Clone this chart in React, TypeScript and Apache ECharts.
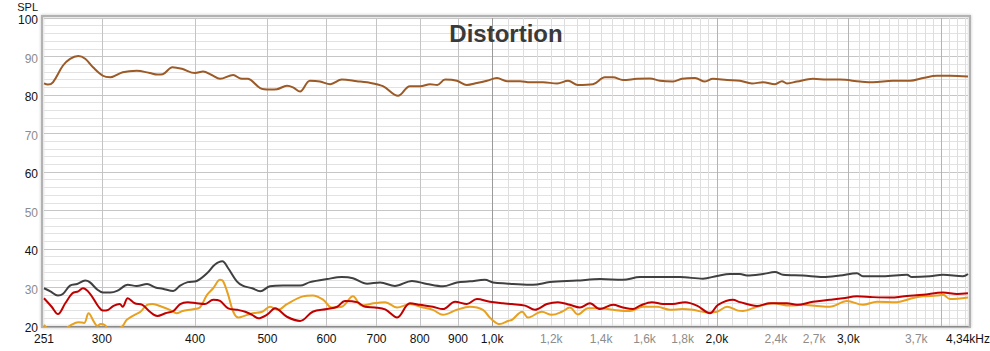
import React, { useEffect, useRef } from 'react';
import * as echarts from 'echarts';

// ---- Data ----
const fundamentalFreq = [251,254,258,266,272,279,285,292,301,308,320,334,348,356,362,373,384,400,410,421,432,450,460,471,489,504,515,531,541,553,570,588,607,629,659,680,714,748,776,801,826,844,865,897,925,954,984,1015,1047,1090,1124,1170,1222,1264,1303,1365,1416,1452,1497,1563,1627,1678,1747,1796,1870,1928,1976,2064,2148,2229,2306,2393,2445,2483,2561,2690,2809,2924,3110,3237,3443,3629,3777,3944,4105,4340];
const fundamentalSpl = [83.0,82.7,83.3,87.6,89.4,90.1,89.4,87.2,85.0,84.6,85.9,86.3,85.7,85.3,85.4,87.2,86.8,85.7,86.1,85.2,84.2,85.2,84.3,84.2,81.8,81.4,81.5,82.4,82.0,80.9,83.7,83.5,82.8,84.0,83.6,83.3,82.3,79.8,82.3,82.3,82.8,82.6,84.0,83.7,82.6,83.1,83.7,84.4,83.6,83.6,83.3,83.3,83.0,83.7,82.6,82.8,84.6,84.6,83.9,84.2,84.3,83.7,83.5,84.2,84.4,83.5,84.2,83.9,83.7,83.0,83.3,82.8,83.6,83.0,83.5,84.2,84.0,84.0,83.5,83.3,83.7,83.7,84.4,85.0,85.0,84.8];

const thdFreq = [251,256,262,266,272,278,285,289,296,301,308,315,325,334,345,354,362,374,382,391,402,415,425,435,443,455,464,477,489,504,525,553,570,601,629,651,680,708,741,781,818,859,897,934,978,1003,1050,1066,1134,1195,1299,1395,1497,1578,1678,1785,1916,2001,2083,2148,2195,2306,2393,2453,2609,2775,2924,3081,3139,3339,3595,3651,3860,4018,4273,4340];
const thdSpl = [29.8,29.0,27.9,28.3,30.5,30.9,31.8,31.4,29.4,28.7,28.7,29.2,30.7,30.4,30.9,30.0,29.7,29.1,30.5,31.4,31.7,33.7,35.9,36.8,35.0,31.6,30.4,29.8,29.0,30.3,30.5,30.5,31.4,32.2,32.7,32.4,31.0,31.3,30.4,31.7,30.9,30.3,31.3,31.6,32.0,31.3,31.0,30.9,30.7,31.4,31.8,32.2,32.0,32.7,32.7,32.7,32.3,33.0,33.5,33.5,33.1,33.5,34.0,33.3,33.1,32.7,33.1,33.7,32.9,32.9,33.3,32.7,32.9,33.3,32.9,33.5];

const h2Freq = [251,257,262,268,274,279,283,289,297,301,306,311,317,320,325,332,340,348,356,365,374,382,391,402,412,423,432,443,456,467,477,486,500,512,531,553,575,601,620,635,659,676,697,719,746,776,801,833,859,892,925,954,993,1034,1063,1107,1141,1184,1225,1271,1311,1352,1395,1452,1497,1544,1578,1637,1694,1747,1813,1881,1958,2007,2102,2148,2264,2356,2483,2561,2690,2835,2951,3081,3237,3412,3595,3777,4018,4195,4340];
const h2Spl = [27.2,25.0,23.1,25.9,28.5,29.0,29.8,28.5,25.0,24.0,24.2,25.2,25.7,25.0,27.2,25.9,25.5,23.7,22.6,23.3,23.9,25.7,26.2,25.9,25.7,26.8,26.5,24.6,24.2,23.7,22.9,22.0,23.0,24.6,22.4,21.3,23.7,24.4,25.0,26.5,26.2,25.0,24.8,24.3,22.2,25.9,25.5,25.0,24.4,26.3,25.7,27.0,26.3,25.9,25.7,25.3,24.2,25.7,26.2,25.5,24.8,25.9,24.4,25.5,24.8,24.4,25.3,26.2,25.7,25.7,26.2,25.3,23.3,25.5,26.8,26.2,25.2,25.9,25.9,25.5,26.3,26.8,27.2,27.7,27.5,27.4,27.8,28.1,28.7,28.3,28.5];

const h3Freq = [251,255,262,268,273,279,284,288,293,296,299,303,306,317,320,324,332,338,345,351,361,370,378,385,396,406,415,423,432,436,443,450,457,467,478,492,504,517,531,558,575,594,610,629,651,669,693,719,746,776,808,833,859,897,934,972,995,1024,1050,1063,1097,1117,1166,1202,1240,1271,1303,1344,1395,1452,1530,1592,1663,1731,1796,1858,1946,2001,2064,2135,2168,2264,2378,2506,2609,2724,2835,2988,3139,3278,3486,3651,3777,3944,4018,4105,4340];
const h3Spl = [20.3,19.0,18.2,19.2,20.3,21.0,20.8,23.3,21.0,20.0,20.5,20.2,19.2,19.5,20.0,21.6,22.9,23.7,25.5,25.7,25.0,24.2,23.3,23.9,24.3,24.8,28.1,29.8,32.0,31.7,28.1,23.7,22.2,22.7,23.3,23.7,25.0,24.2,25.7,27.7,27.9,26.8,24.8,25.0,27.7,25.3,25.9,26.2,24.8,25.7,24.8,24.2,22.9,24.2,25.0,24.2,22.0,20.5,21.3,21.6,23.7,22.2,23.7,22.9,23.7,24.8,23.0,24.6,24.6,24.2,23.9,25.0,25.0,24.2,24.4,24.2,23.5,23.7,25.0,24.0,23.9,25.0,25.9,25.3,25.5,25.2,25.0,26.5,25.5,26.3,26.2,27.2,27.7,27.9,28.1,27.0,27.4];

// ---- Axis ticks / labels ----
const xTickValues = [251, 300, 400, 500, 600, 700, 800, 900, 1000, 1200, 1400, 1600, 1800, 2000, 2400, 2700, 3000, 3700, 4340];
const xTickLabels = ['251','300','400','500','600','700','800','900','1,0k','1,2k','1,4k','1,6k','1,8k','2,0k','2,4k','2,7k','3,0k','3,7k','4,34kHz'];
const xTickMuted = ['1,2k','1,4k','1,6k','1,8k','2,4k','2,7k','3,7k'];

const gridHundreds = [300, 400, 500, 600, 700, 800, 900];
const gridThousands = [1000, 2000, 3000, 4000];
const gridFifties = [1050,1100,1150,1200,1250,1300,1350,1400,1450,1500,1550,1600,1650,1700,1750,1800,1850,1900,1950];
const gridUpperHundreds = [2100,2200,2300,2400,2500,2600,2700,2800,2900,3100,3200,3300,3400,3500,3600,3700,3800,3900,4100,4200,4300];

const FONT = '"Liberation Sans", Arial, Helvetica, sans-serif';

const zip = (xs: number[], ys: number[]) => xs.map((x, i) => [x, ys[i]]);

export default function App() {
  const ref = useRef<HTMLDivElement>(null);

  useEffect(() => {
    if (!ref.current) return;
    const chart = echarts.init(ref.current, undefined, { renderer: 'svg' });

    const labelFor = (v: number) => {
      let best = 0;
      let bd = Infinity;
      xTickValues.forEach((t, i) => {
        const d = Math.abs(Math.log(v) - Math.log(t));
        if (d < bd) { bd = d; best = i; }
      });
      return xTickLabels[best];
    };

    const gridLineData = [
      ...gridFifties.map((f) => ({ xAxis: f, lineStyle: { color: '#dedede', width: 1, type: 'solid' } })),
      ...gridUpperHundreds.map((f) => ({ xAxis: f, lineStyle: { color: '#dedede', width: 1, type: 'solid' } })),
      ...gridHundreds.map((f) => ({ xAxis: f, lineStyle: { color: '#c4c4c4', width: 1, type: 'solid' } })),
      ...gridThousands.map((f) => ({ xAxis: f, lineStyle: { color: f === 1000 ? '#9a9a9a' : '#b4b4b4', width: 1, type: 'solid' } })),
    ];

    const lineSeries = (name: string, xs: number[], ys: number[], color: string) => ({
      type: 'line',
      name,
      data: zip(xs, ys),
      showSymbol: false,
      symbol: 'none',
      smooth: 0.35,
      clip: true,
      z: 3,
      lineStyle: { color, width: 2 },
      silent: true,
    });

    const option: any = {
      animation: false,
      backgroundColor: '#ffffff',
      grid: { left: 44, right: 22, top: 18, bottom: 25, containLabel: false, outerBoundsMode: 'none' },
      xAxis: {
        type: 'log',
        logBase: 10,
        min: 251,
        max: 4340,
        axisLine: { show: true, lineStyle: { color: '#8a8a8a', width: 1 } },
        axisTick: { show: false },
        splitLine: { show: false },
        axisLabel: {
          customValues: xTickValues.map((v, i) => (i === 0 ? v + 0.001 : i === xTickValues.length - 1 ? v - 0.01 : v)),
          margin: 7,
          fontSize: 12,
          fontFamily: FONT,
          hideOverlap: false,
          showMinLabel: true,
          showMaxLabel: true,
          formatter: (v: number) => {
            const l = labelFor(v);
            return xTickMuted.includes(l) ? `{g|${l}}` : `{d|${l}}`;
          },
          rich: {
            d: { color: '#111111', fontSize: 12, fontFamily: FONT },
            g: { color: '#8c8c8c', fontSize: 12, fontFamily: FONT },
          },
        },
      },
      yAxis: {
        type: 'value',
        min: 20,
        max: 100,
        interval: 10,
        axisLine: { show: false },
        axisTick: { show: false },
        splitLine: { show: true, lineStyle: { color: '#c6c6c6', width: 1 } },
        minorTick: { show: false, splitNumber: 5 },
        minorSplitLine: { show: true, lineStyle: { color: '#e2e2e2', width: 1 } },
        axisLabel: {
          margin: 6,
          fontSize: 12,
          padding: [4, 0, 0, 0],
          fontFamily: FONT,
          formatter: (v: number) => ((v / 10) % 2 === 0 ? `{d|${v}}` : `{g|${v}}`),
          rich: {
            d: { color: '#111111', fontSize: 12, fontFamily: FONT },
            g: { color: '#8c8c8c', fontSize: 12, fontFamily: FONT },
          },
        },
      },
      graphic: [
        {
          type: 'rect',
          z: 0,
          silent: true,
          shape: { x: 42, y: 16, width: 928, height: 311 },
          style: { fill: 'none', stroke: '#b2b2b2', lineWidth: 2, shadowBlur: 3, shadowColor: 'rgba(0,0,0,0.25)' },
        },
        {
          type: 'text',
          z: 10,
          silent: true,
          x: 506,
          y: 33,
          style: {
            text: 'Distortion',
            fill: '#3a3a3a',
            font: `bold 24px ${FONT}`,
            textAlign: 'center',
            textVerticalAlign: 'middle',
          },
        },
        {
          type: 'text',
          z: 10,
          silent: true,
          x: 38,
          y: 7,
          style: {
            text: 'SPL',
            fill: '#111111',
            font: `11px ${FONT}`,
            textAlign: 'right',
            textVerticalAlign: 'middle',
          },
        },
      ],
      series: [
        {
          type: 'line',
          name: 'grid',
          data: [[1000, 60]],
          symbol: 'none',
          showSymbol: false,
          lineStyle: { opacity: 0 },
          z: 1,
          silent: true,
          markLine: {
            silent: true,
            symbol: ['none', 'none'],
            label: { show: false },
            animation: false,
            z: 1,
            data: gridLineData,
          },
        },
        lineSeries('H3', h3Freq, h3Spl, '#e8a020'),
        lineSeries('H2', h2Freq, h2Spl, '#c00000'),
        lineSeries('THD', thdFreq, thdSpl, '#404040'),
        lineSeries('Fundamental', fundamentalFreq, fundamentalSpl, '#9c5a27'),
      ],
    };

    chart.setOption(option);
    return () => chart.dispose();
  }, []);

  return (
    <div
      ref={ref}
      style={{ position: 'fixed', left: 0, top: 0, width: 990, height: 351, background: '#fff' }}
    />
  );
}
